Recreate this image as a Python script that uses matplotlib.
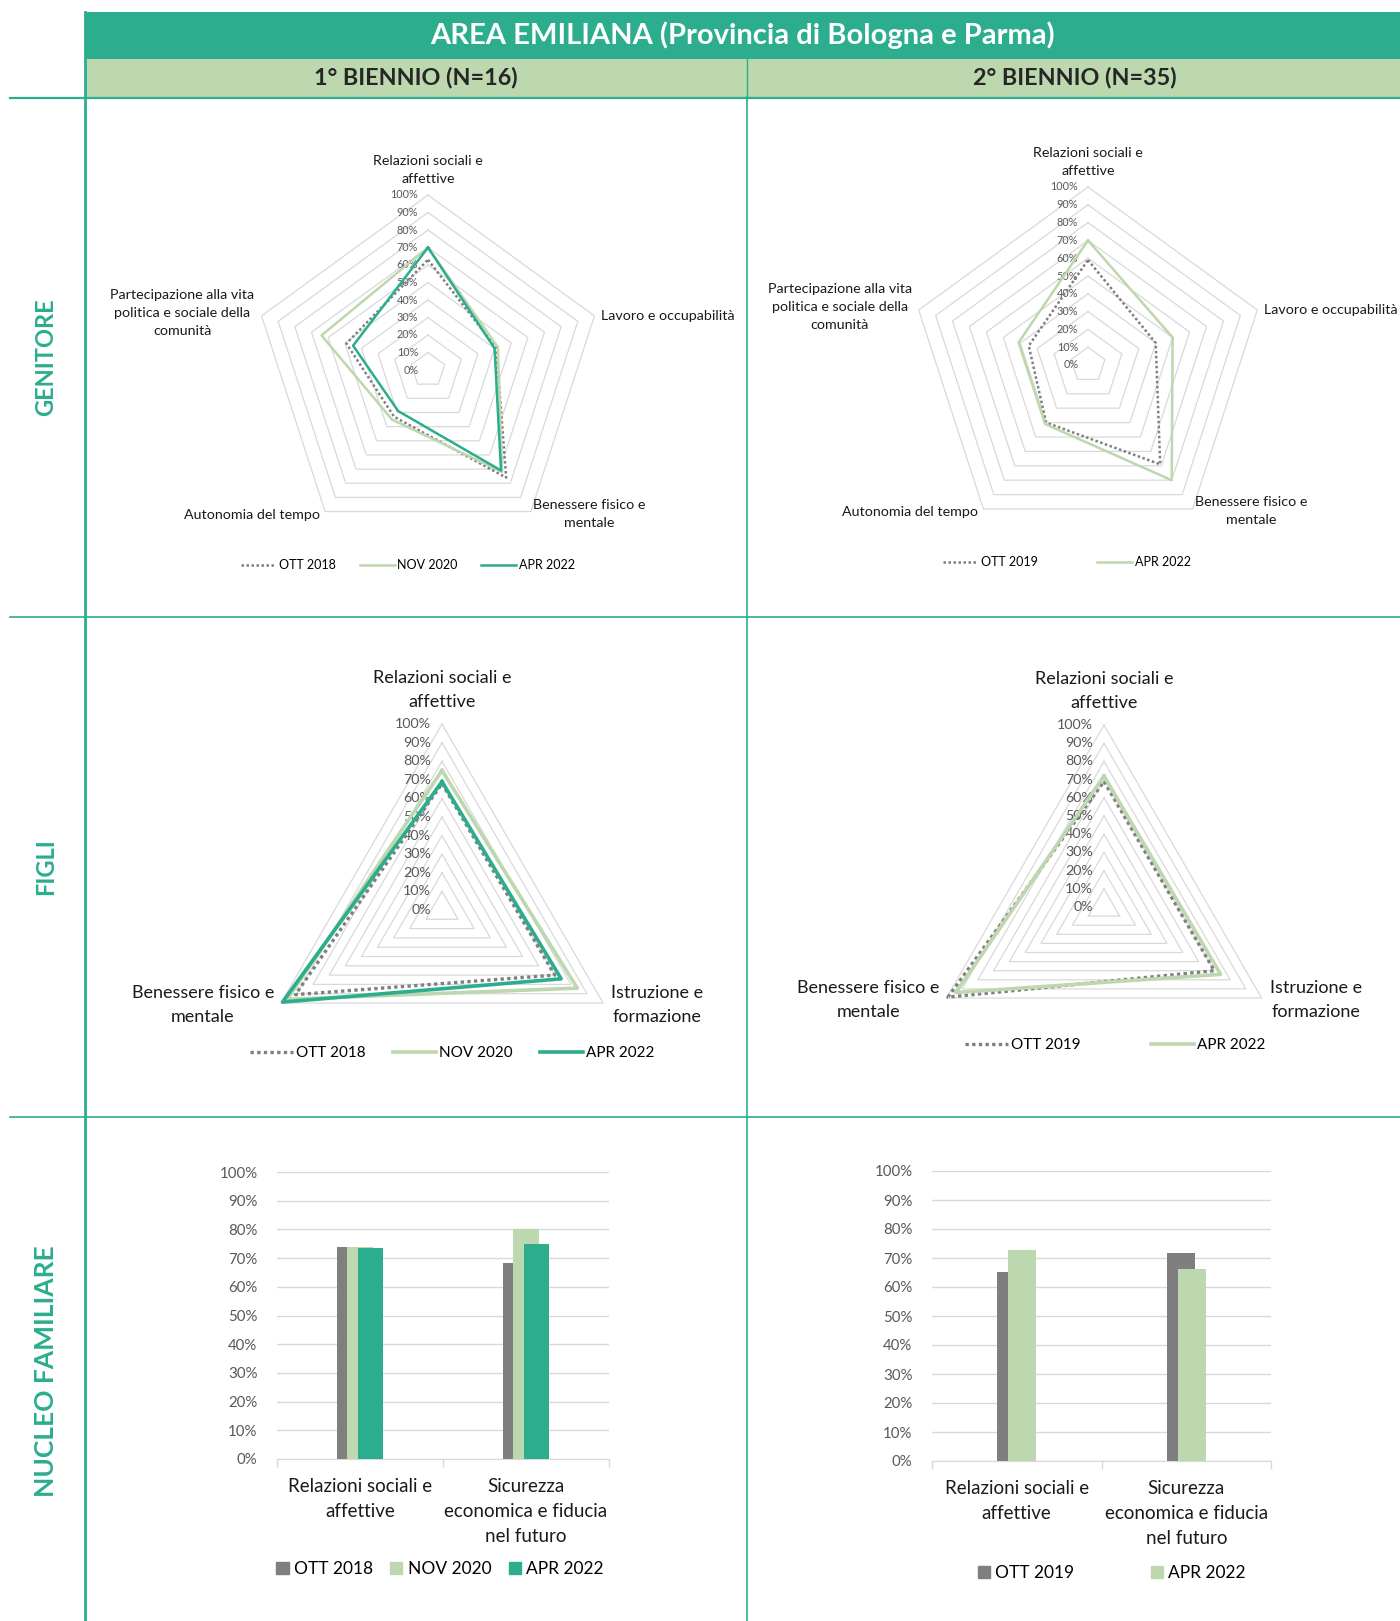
import numpy as np
import matplotlib
matplotlib.use("Agg")
import matplotlib.pyplot as plt
from matplotlib.lines import Line2D
from matplotlib.patches import Rectangle, Patch

plt.rcParams['font.family'] = ['Lato', 'DejaVu Sans']

TEAL = '#2BAD8E'
LIGHT = '#BDD7AE'
GREY = '#7F7F7F'
GRID = '#D9D9D9'
TICK = '#595959'

W, H = 1400, 1621

# --- data -------------------------------------------------------------
gen_axes = ["Relazioni sociali e\naffettive", "Lavoro e occupabilità",
            "Benessere fisico e\nmentale", "Autonomia del tempo",
            "Partecipazione alla vita\npolitica e sociale della\ncomunità"]
gen1_ott2018 = [63, 41, 76, 33, 49]
gen1_nov2020 = [70, 42, 72, 35, 64]
gen1_apr2022 = [70, 40, 71, 29, 45]
gen2_ott2019 = [59, 40, 69, 40, 35]
gen2_apr2022 = [70, 50, 80, 41, 41]

figli_axes = ["Relazioni sociali e\naffettive", "Istruzione e\nformazione",
              "Benessere fisico e\nmentale"]
figli1_ott2018 = [68, 70, 91]
figli1_nov2020 = [75, 84, 96]
figli1_apr2022 = [69, 74, 99]
figli2_ott2019 = [69, 70, 99]
figli2_apr2022 = [72, 74, 94]

nucleo_cats = ["Relazioni sociali e\naffettive", "Sicurezza\neconomica e fiducia\nnel futuro"]
nuc1_ott2018 = [74.0, 68.4]
nuc1_nov2020 = [74.0, 80.0]
nuc1_apr2022 = [73.4, 75.0]
nuc2_ott2019 = [65.3, 71.8]
nuc2_apr2022 = [72.7, 66.1]

# line styles for the radar series
def style_ott(lw):
    return dict(color=GREY, lw=lw, linestyle=(0, (1, 1)))

def style_nov(lw):
    return dict(color=LIGHT, lw=lw)

def style_apr(lw):
    return dict(color=TEAL, lw=lw)


fig = plt.figure(figsize=(W / 100, H / 100), dpi=100)


def rect(x0, y0, x1, y1):
    return [x0 / W, 1 - y1 / H, (x1 - x0) / W, (y1 - y0) / H]


# --- frame: header bands, separators, row titles -----------------------
bg = fig.add_axes([0, 0, 1, 1])
bg.set_xlim(0, W)
bg.set_ylim(H, 0)
bg.axis('off')
bg.add_patch(Rectangle((85, 12), W - 85, 47, color=TEAL, lw=0))
bg.add_patch(Rectangle((85, 59), W - 85, 38, color=LIGHT, lw=0))
bg.plot([747, 747], [59, 97], color=TEAL, lw=1)
bg.plot([10, W], [98, 98], color=TEAL, lw=1.6)
bg.plot([10, W], [617, 617], color=TEAL, lw=1.2)
bg.plot([10, W], [1117, 1117], color=TEAL, lw=1.2)
bg.plot([85, 85], [12, H], color=TEAL, lw=2)
bg.plot([747, 747], [97, H], color=TEAL, lw=1.2)

bg.text(742, 35, "AREA EMILIANA (Provincia di Bologna e Parma)", color='white',
        fontsize=21, fontweight='bold', ha='center', va='center')
bg.text(416, 78, "1° BIENNIO (N=16)", color='#262626', fontsize=16.8,
        fontweight='bold', ha='center', va='center')
bg.text(1075, 78, "2° BIENNIO (N=35)", color='#262626', fontsize=16.8,
        fontweight='bold', ha='center', va='center')
for label, yc, fs in [("GENITORE", 357, 17), ("FIGLI", 867, 17),
                      ("NUCLEO FAMILIARE", 1371, 19)]:
    bg.text(46, yc, label, color=TEAL, fontsize=fs, fontweight='bold',
            rotation=90, ha='center', va='center')


# --- radar charts ------------------------------------------------------
def radar(cx, cy, R, labels, series, label_fs, tick_fs, label_pos, tick_dx):
    ax = fig.add_axes(rect(cx - R, cy - R, cx + R, cy + R), projection='polar')
    ax.set_theta_zero_location('N')
    ax.set_theta_direction(-1)
    ax.set_ylim(0, 100)
    ax.axis('off')
    n = len(labels)
    ang = np.arange(n) * 2 * np.pi / n
    closed = np.append(ang, ang[0])
    for lvl in range(10, 101, 10):
        ax.plot(closed, [lvl] * (n + 1), color=GRID, lw=0.9, clip_on=False, zorder=1)
    for lvl in range(0, 101, 10):
        ax.annotate(f"{lvl}%", xy=(0, lvl), xytext=(tick_dx, 0), textcoords='offset points',
                    ha='right', va='center', fontsize=tick_fs, color=TICK, zorder=2)
    for vals, st in series:
        ax.plot(closed, np.append(vals, vals[0]), clip_on=False, zorder=3, **st)
    for a, lab, (dx, dy, ha, va) in zip(ang, labels, label_pos):
        ax.annotate(lab, xy=(a, 100), xytext=(dx * 0.72, dy * 0.72),
                    textcoords='offset points', ha=ha, va=va, fontsize=label_fs,
                    multialignment='center', color='#1a1a1a', linespacing=1.6,
                    annotation_clip=False)
    return ax


pent_pos = [(0, 10, 'center', 'bottom'), (7, 0, 'left', 'center'),
            (2, 13, 'left', 'top'), (-5, 3, 'right', 'top'),
            (-7, 3, 'right', 'center')]
tri_pos = [(0, 14, 'center', 'bottom'), (8, -2, 'left', 'center'),
           (-7, -2, 'right', 'center')]

radar(428, 370, 175, gen_axes,
      [(gen1_ott2018, style_ott(1.8)), (gen1_nov2020, style_nov(1.8)),
       (gen1_apr2022, style_apr(1.8))], 10.3, 7.8, pent_pos, -7)
radar(1088, 365, 178, gen_axes,
      [(gen2_ott2019, style_ott(1.8)), (gen2_apr2022, style_nov(1.8))],
      10.3, 7.8, pent_pos, -7)
radar(442, 910, 186, figli_axes,
      [(figli1_ott2018, style_ott(2.4)), (figli1_nov2020, style_nov(2.6)),
       (figli1_apr2022, style_apr(2.6))], 13, 10.3, tri_pos, -8)
radar(1104, 907, 182, figli_axes,
      [(figli2_ott2019, style_ott(2.4)), (figli2_apr2022, style_nov(2.6))],
      13, 10.3, tri_pos, -8)


def line_legend(handles, names, x, y, fs, spacing):
    fig.legend(handles, names, loc='center', bbox_to_anchor=(x / W, 1 - y / H),
               ncol=len(names), frameon=False, fontsize=fs, handlelength=2.8,
               columnspacing=spacing, handletextpad=0.2)


line_legend([Line2D([], [], **style_ott(1.8)), Line2D([], [], **style_nov(1.8)),
             Line2D([], [], **style_apr(1.8))],
            ["OTT 2018", "NOV 2020", "APR 2022"], 408, 565, 9, 1.9)
line_legend([Line2D([], [], **style_ott(1.8)), Line2D([], [], **style_nov(1.8))],
            ["OTT 2019", "APR 2022"], 1067, 562, 9, 4.8)
line_legend([Line2D([], [], **style_ott(2.4)), Line2D([], [], **style_nov(2.6)),
             Line2D([], [], **style_apr(2.6))],
            ["OTT 2018", "NOV 2020", "APR 2022"], 452, 1053, 11, 1.8)
line_legend([Line2D([], [], **style_ott(2.4)), Line2D([], [], **style_nov(2.6))],
            ["OTT 2019", "APR 2022"], 1115, 1045, 11, 4.6)


# --- bar charts --------------------------------------------------------
def bars(box, series, width, step, legend_xy, col_space):
    ax = fig.add_axes(rect(*box))
    x = np.arange(len(nucleo_cats))
    k = len(series)
    for i, (vals, color, name) in enumerate(series):
        ax.bar(x + (i - (k - 1) / 2) * step, vals, width, color=color, label=name,
               zorder=2 + i)
    ax.set_xlim(-0.5, 1.5)
    ax.set_ylim(0, 100)
    ax.set_yticks(range(0, 101, 10))
    ax.set_yticklabels([f"{v}%" for v in range(0, 101, 10)])
    ax.set_xticks(x)
    ax.set_xticklabels(nucleo_cats, fontsize=13.5, color='#1a1a1a', linespacing=1.55)
    ax.set_xticks([-0.5, 0.5, 1.5], minor=True)
    ax.tick_params(axis='x', which='major', length=0, pad=14)
    ax.tick_params(axis='x', which='minor', length=6, color=GRID, width=1)
    ax.tick_params(axis='y', length=0, labelsize=10.8, labelcolor=TICK, pad=14)
    ax.grid(axis='y', color=GRID, lw=1, zorder=0)
    ax.set_axisbelow(True)
    for s in ['top', 'left', 'right']:
        ax.spines[s].set_visible(False)
    ax.spines['bottom'].set_color(GRID)
    handles = [Patch(color=c) for _, c, _ in series]
    fig.legend(handles, [nm for _, _, nm in series], loc='center',
               bbox_to_anchor=(legend_xy[0] / W, 1 - legend_xy[1] / H),
               ncol=k, frameon=False, fontsize=12.5, handlelength=0.7,
               handleheight=0.7, handletextpad=0.3, columnspacing=col_space)


bars((277, 1172, 609, 1459),
     [(nuc1_ott2018, GREY, "OTT 2018"), (nuc1_nov2020, LIGHT, "NOV 2020"),
      (nuc1_apr2022, TEAL, "APR 2022")], 0.152, 0.062, (440, 1569), 1.0)
bars((932, 1171, 1271, 1461),
     [(nuc2_ott2019, GREY, "OTT 2019"), (nuc2_apr2022, LIGHT, "APR 2022")],
     0.167, 0.065, (1112, 1573), 4.4)

fig.savefig("out.png", dpi=100)
